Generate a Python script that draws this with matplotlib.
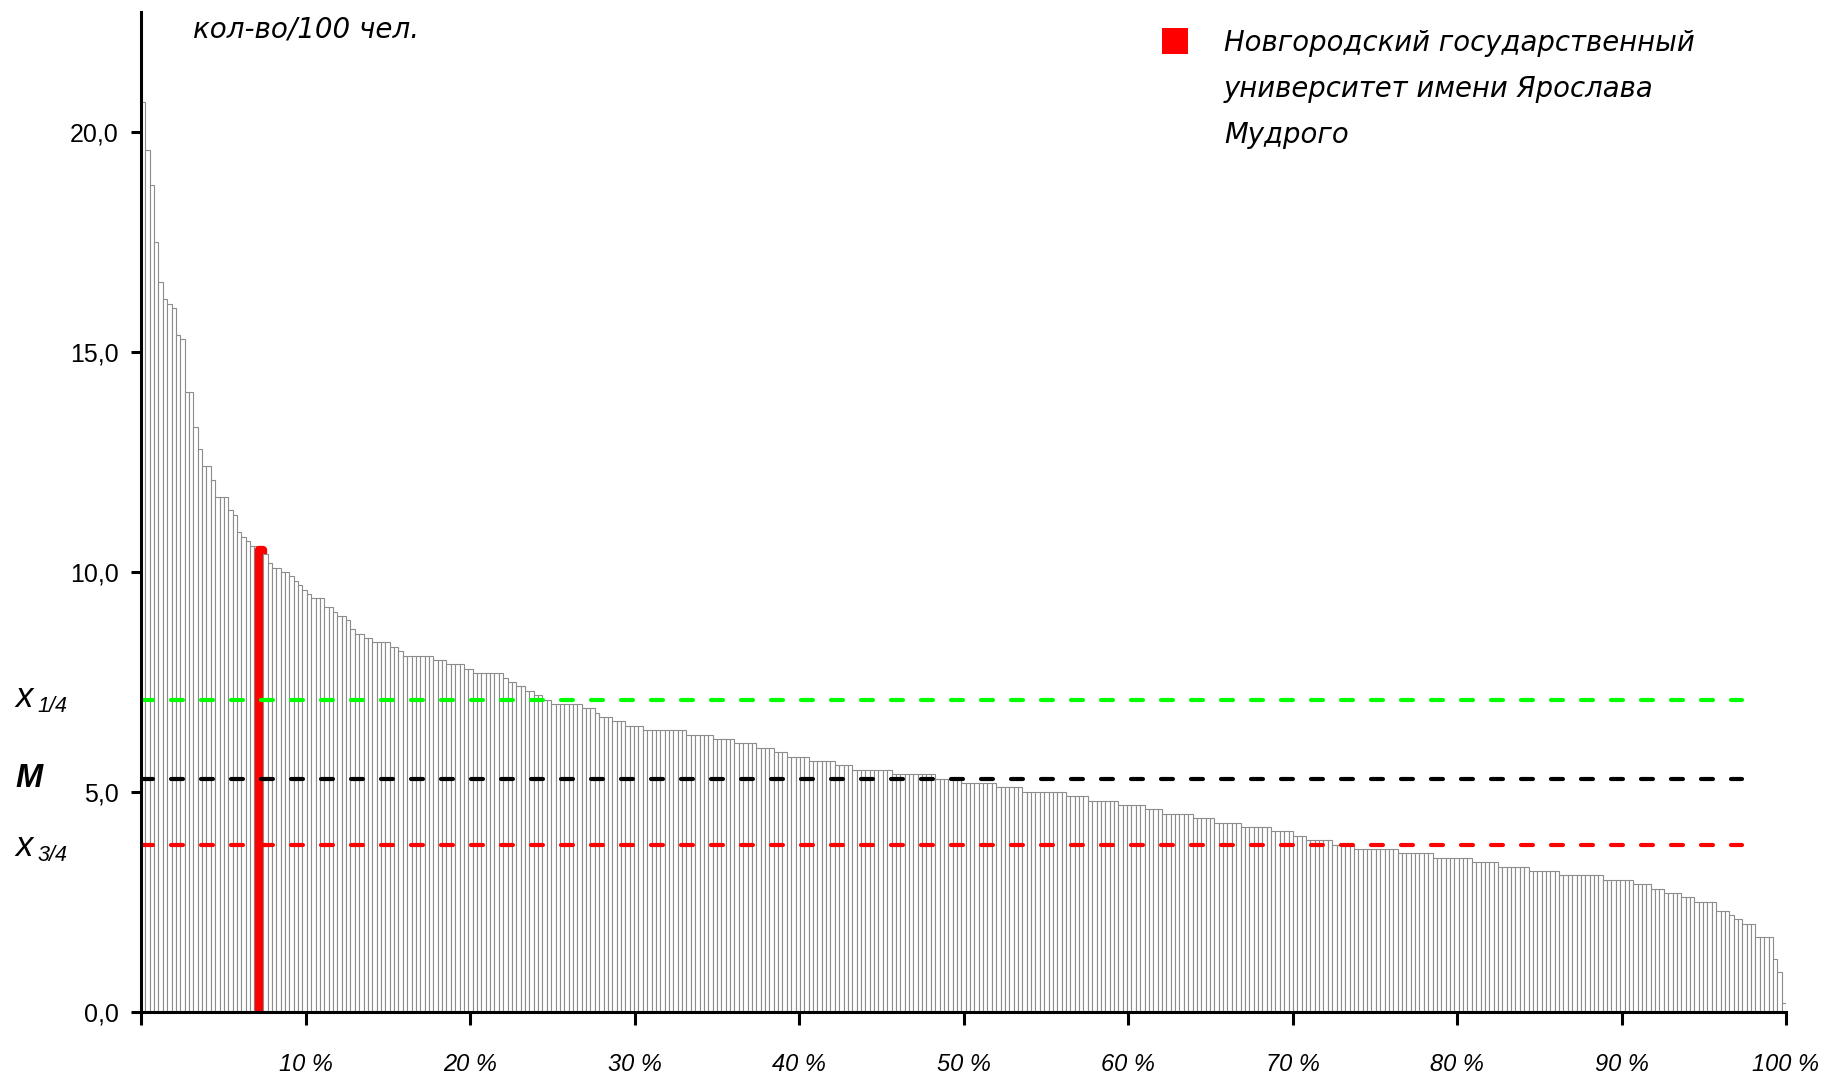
import numpy as np
import matplotlib
matplotlib.use("Agg")
import matplotlib.pyplot as plt
from matplotlib.patches import Rectangle

plt.rcParams['font.family'] = ['Liberation Sans', 'DejaVu Sans']
plt.rcParams['lines.scale_dashes'] = False

# ---------------- data ----------------
# individually read bars at the top of the ranking
top_values = [20.7, 19.6, 18.8, 17.5, 16.6, 16.2, 16.1, 16.0, 15.4, 15.3,
              14.1, 14.1, 13.3, 12.8, 12.4, 12.4, 12.1, 11.7, 11.7, 11.7,
              11.4, 11.3, 10.9, 10.8, 10.7, 10.6, 10.6, 10.5, 10.4, 10.2,
              10.1, 10.1, 10.0, 10.0, 9.9, 9.8, 9.7, 9.6, 9.5, 9.4,
              9.4, 9.4, 9.2, 9.2, 9.1, 9.0, 9.0, 8.9, 8.7, 8.6,
              8.6, 8.5, 8.5, 8.4, 8.4, 8.4, 8.4, 8.3, 8.3, 8.2]
# remaining bars: level and how many bars share it
plateau_levels = [8.1, 8.0, 7.9, 7.8, 7.7, 7.6, 7.5, 7.4, 7.3, 7.2, 7.1, 7.0,
                  6.9, 6.8, 6.7, 6.6, 6.5, 6.4, 6.3, 6.2, 6.1, 6.0, 5.9,
                  5.8, 5.7, 5.6, 5.5, 5.4, 5.3, 5.2, 5.1, 5.0, 4.9, 4.8, 4.7,
                  4.6, 4.5, 4.4,
                  4.3, 4.2, 4.1, 4.0, 3.9, 3.8, 3.7, 3.6, 3.5, 3.4, 3.3, 3.2, 3.1,
                  3.0, 2.9, 2.8, 2.7, 2.6, 2.5, 2.3, 2.2, 2.1, 2.0, 1.7, 1.2, 0.9, 0.2]
plateau_counts = [7, 3, 4, 2, 7, 1, 2, 2, 2, 2, 2, 7,
                  3, 1, 3, 3, 4, 10, 6, 5, 5, 4, 3,
                  5, 6, 4, 9, 10, 6, 8, 6, 10, 5, 7, 6,
                  4, 7, 5,
                  6, 7, 5, 3, 6, 5, 10, 8, 9, 6, 7, 7, 10,
                  7, 4, 3, 4, 3, 5, 3, 1, 2, 3, 4, 1, 1, 1]
highlight_index = 27          # Новгородский государственный университет
quartile_values = [7.1, 5.3, 3.8]
quartile_colors = ['#00FF00', '#000000', '#FF0000']

y_ticks = [0, 5, 10, 15, 20]
y_tick_labels = ['0,0', '5,0', '10,0', '15,0', '20,0']
x_tick_pct = [0, 10, 20, 30, 40, 50, 60, 70, 80, 90, 100]
x_tick_labels = ['', '10 %', '20 %', '30 %', '40 %', '50 %', '60 %', '70 %',
                 '80 %', '90 %', '100 %']
unit_label = 'кол-во/100 чел.'
legend_lines = ['Новгородский государственный', 'университет имени Ярослава', 'Мудрого']

values = np.concatenate([np.array(top_values),
                         np.repeat(plateau_levels, plateau_counts)])
N = len(values)

# ---------------- figure ----------------
W, H = 1843, 1075
fig = plt.figure(figsize=(W / 100, H / 100), dpi=100)
x0_px, x1_px = 141, 1786
y0_px, ytop_px = 1011.7, 12
px_per_unit = 43.97
ax = fig.add_axes([x0_px / W, 1 - y0_px / H, (x1_px - x0_px) / W, (y0_px - ytop_px) / H])
ax.set_xlim(0, N)
ax.set_ylim(0, (y0_px - ytop_px) / px_per_unit)

face = ['white'] * N
edge = ['#8c8c8c'] * N
lws = [0.8] * N
face[highlight_index] = '#FF0000'
edge[highlight_index] = '#FF0000'
lws[highlight_index] = 6.0
bars = ax.bar(np.arange(N), values, width=1.0, align='edge', color=face,
              edgecolor=edge, linewidth=lws, zorder=1)
bars[highlight_index].set_joinstyle('round')

# dash pattern in points (not scaled by line width)
for val, col in zip(quartile_values, quartile_colors):
    ax.axhline(val, xmin=0, xmax=0.9735, color=col, lw=3.0, dashes=(8.6, 13.0),
               dash_capstyle='round', zorder=3)

for s in ['top', 'right']:
    ax.spines[s].set_visible(False)
for s in ['left', 'bottom']:
    ax.spines[s].set_linewidth(2.2)
    ax.spines[s].set_zorder(5)

ax.set_yticks(y_ticks)
ax.set_yticklabels(y_tick_labels)
ax.set_xticks([N * p / 100 for p in x_tick_pct])
ax.set_xticklabels(x_tick_labels)
ax.tick_params(axis='y', direction='out', length=7, width=2.2, pad=8.9, labelsize=18)
ax.tick_params(axis='x', direction='out', length=9.5, width=2.2, pad=20.5, labelsize=17)
for lbl in ax.get_xticklabels():
    lbl.set_fontstyle('italic')

cyr_font = ['DejaVu Sans']

# unit label
fig.text(193 / W, 1 - 37.5 / H, unit_label, fontsize=20, style='italic',
         va='baseline', family=cyr_font)

# legend
fig.add_artist(Rectangle((1162.3 / W, 1 - 54 / H), 26 / W, 25.7 / H,
                         transform=fig.transFigure, facecolor='#FF0000', edgecolor='none'))
for line, base in zip(legend_lines, [50.7, 97.3, 143.3]):
    fig.text(1224 / W, 1 - base / H, line, fontsize=19.8, style='italic',
             va='baseline', family=cyr_font)

# quartile / median labels
fig.text(15 / W, 1 - 706.7 / H, 'x', fontsize=25, style='italic', va='baseline')
fig.text(37.3 / W, 1 - 711.7 / H, '1/4', fontsize=15.5, style='italic', va='baseline')
fig.text(15 / W, 1 - 786.7 / H, 'M', fontsize=23.5, style='italic', weight='bold', va='baseline')
fig.text(15 / W, 1 - 856 / H, 'x', fontsize=25, style='italic', va='baseline')
fig.text(37.3 / W, 1 - 861 / H, '3/4', fontsize=15.5, style='italic', va='baseline')

fig.savefig('out.png', dpi=100)
